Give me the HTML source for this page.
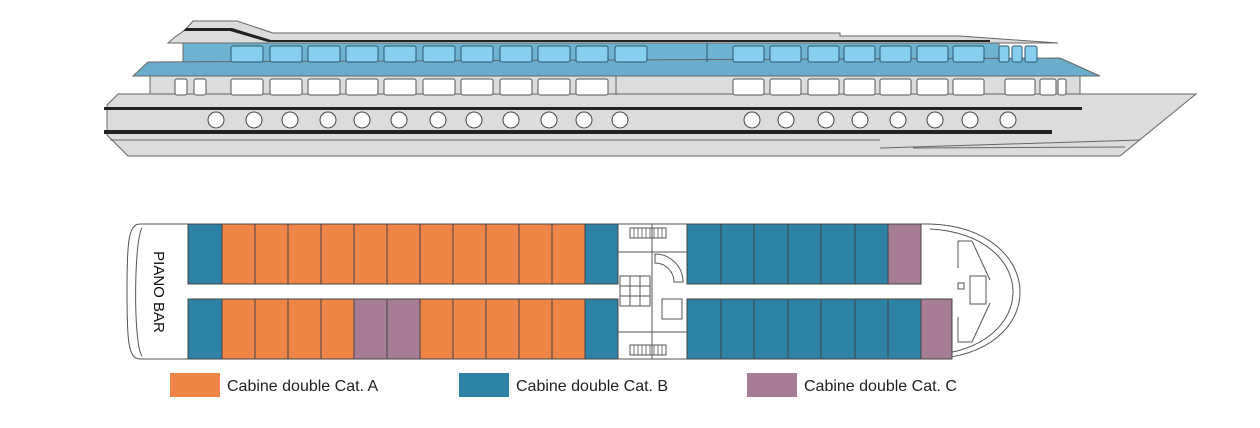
<!DOCTYPE html>
<html><head><meta charset="utf-8"><style>
html,body{margin:0;padding:0;background:#fff;width:1260px;height:428px;overflow:hidden}
svg{display:block}
text{font-family:"Liberation Sans",sans-serif}
</style></head><body>
<svg width="1260" height="428" viewBox="0 0 1260 428" xmlns="http://www.w3.org/2000/svg">
<!-- ===== PROFILE ===== -->
<g stroke="#666" stroke-width="1">
<!-- roof -->
<polygon points="193,21 237,21 273,33 840,33 840,36 960,36 1058,43 168,43 175,37 185,30" fill="#dcdcdc"/>
<polygon points="186,28 232,28 271,40 990,40 990,42 268,42 230,31 183,31" fill="#222" stroke="none"/>
<!-- glass deck -->
<rect x="183" y="43" width="816" height="19" fill="#6fb3d3"/>
<!-- blue band -->
<polygon points="148,62 1060,58 1100,76 133,76" fill="#6aaccb"/>
<!-- white deck -->
<rect x="150" y="76" width="930" height="19" fill="#dcdcdc"/>
<!-- hull -->
<polygon points="118,94 1196,94 1120,156 128,156 107,135 107,105" fill="#dcdcdc"/>
<line x1="880" y1="148" x2="1140" y2="140"/>
<line x1="913" y1="148" x2="1125" y2="147"/>
<line x1="110" y1="140" x2="880" y2="140"/>
</g>
<rect x="104" y="107" width="978" height="3" fill="#222"/>
<rect x="104" y="130" width="948" height="4" fill="#222"/>
<g fill="#87cfee" stroke="#2a5a75" stroke-width="1">
<rect x="231" y="46" width="32" height="16" rx="2"/><rect x="270" y="46" width="32" height="16" rx="2"/>
<rect x="308" y="46" width="32" height="16" rx="2"/><rect x="346" y="46" width="32" height="16" rx="2"/>
<rect x="384" y="46" width="32" height="16" rx="2"/><rect x="423" y="46" width="32" height="16" rx="2"/>
<rect x="461" y="46" width="32" height="16" rx="2"/><rect x="500" y="46" width="32" height="16" rx="2"/>
<rect x="538" y="46" width="32" height="16" rx="2"/><rect x="576" y="46" width="32" height="16" rx="2"/>
<rect x="615" y="46" width="32" height="16" rx="2"/>
<rect x="733" y="46" width="31" height="16" rx="2"/><rect x="770" y="46" width="31" height="16" rx="2"/>
<rect x="808" y="46" width="31" height="16" rx="2"/><rect x="844" y="46" width="31" height="16" rx="2"/>
<rect x="880" y="46" width="31" height="16" rx="2"/><rect x="917" y="46" width="31" height="16" rx="2"/>
<rect x="953" y="46" width="31" height="16" rx="2"/>
<rect x="999" y="46" width="10" height="16" rx="2"/><rect x="1012" y="46" width="10" height="16" rx="2"/><rect x="1025" y="46" width="12" height="16" rx="2"/>
</g>
<line x1="707" y1="43" x2="707" y2="62" stroke="#2a5a75"/>
<g fill="#fff" stroke="#555" stroke-width="1">
<rect x="175" y="79" width="12" height="16" rx="2"/><rect x="194" y="79" width="12" height="16" rx="2"/>
<rect x="231" y="79" width="32" height="16" rx="2"/><rect x="270" y="79" width="32" height="16" rx="2"/>
<rect x="308" y="79" width="32" height="16" rx="2"/><rect x="346" y="79" width="32" height="16" rx="2"/>
<rect x="384" y="79" width="32" height="16" rx="2"/><rect x="423" y="79" width="32" height="16" rx="2"/>
<rect x="461" y="79" width="32" height="16" rx="2"/><rect x="500" y="79" width="32" height="16" rx="2"/>
<rect x="538" y="79" width="32" height="16" rx="2"/><rect x="576" y="79" width="32" height="16" rx="2"/>
<rect x="733" y="79" width="31" height="16" rx="2"/><rect x="770" y="79" width="31" height="16" rx="2"/>
<rect x="808" y="79" width="31" height="16" rx="2"/><rect x="844" y="79" width="31" height="16" rx="2"/>
<rect x="880" y="79" width="31" height="16" rx="2"/><rect x="917" y="79" width="31" height="16" rx="2"/>
<rect x="953" y="79" width="31" height="16" rx="2"/><rect x="1005" y="79" width="30" height="16" rx="2"/>
<rect x="1040" y="79" width="16" height="16" rx="2"/><rect x="1058" y="79" width="8" height="16" rx="2"/>
</g>
<line x1="616" y1="76" x2="616" y2="95" stroke="#666"/>
<g fill="#fff" stroke="#444" stroke-width="1">
<circle cx="216" cy="120" r="8"/><circle cx="254" cy="120" r="8"/><circle cx="290" cy="120" r="8"/><circle cx="328" cy="120" r="8"/>
<circle cx="362" cy="120" r="8"/><circle cx="399" cy="120" r="8"/><circle cx="438" cy="120" r="8"/><circle cx="474" cy="120" r="8"/>
<circle cx="511" cy="120" r="8"/><circle cx="549" cy="120" r="8"/><circle cx="584" cy="120" r="8"/><circle cx="620" cy="120" r="8"/>
<circle cx="752" cy="120" r="8"/><circle cx="786" cy="120" r="8"/><circle cx="826" cy="120" r="8"/><circle cx="860" cy="120" r="8"/>
<circle cx="898" cy="120" r="8"/><circle cx="935" cy="120" r="8"/><circle cx="970" cy="120" r="8"/><circle cx="1008" cy="120" r="8"/>
</g>
<!-- ===== DECK PLAN ===== -->
<path d="M140,224 L930,224 C990,226 1020,260 1020,292 C1020,325 990,357 930,359 L140,359 C128,359 127,340 127,292 C127,244 128,224 140,224 Z" fill="#fff" stroke="#555"/>
<path d="M930,229 C985,232 1013,262 1013,292 C1013,322 985,352 930,355" fill="none" stroke="#555"/>
<path d="M142,228 C134,240 133,344 142,356" fill="none" stroke="#555"/>
<g stroke="#444" stroke-width="1">
<rect x="188" y="224" width="34" height="60" fill="#2d82a6"/><rect x="188" y="299" width="34" height="60" fill="#2d82a6"/>
<g fill="#ef8447">
<rect x="222" y="224" width="33" height="60"/><rect x="255" y="224" width="33" height="60"/><rect x="288" y="224" width="33" height="60"/>
<rect x="321" y="224" width="33" height="60"/><rect x="354" y="224" width="33" height="60"/><rect x="387" y="224" width="33" height="60"/>
<rect x="420" y="224" width="33" height="60"/><rect x="453" y="224" width="33" height="60"/><rect x="486" y="224" width="33" height="60"/>
<rect x="519" y="224" width="33" height="60"/><rect x="552" y="224" width="33" height="60"/>
<rect x="222" y="299" width="33" height="60"/><rect x="255" y="299" width="33" height="60"/><rect x="288" y="299" width="33" height="60"/>
<rect x="321" y="299" width="33" height="60"/>
<rect x="420" y="299" width="33" height="60"/><rect x="453" y="299" width="33" height="60"/><rect x="486" y="299" width="33" height="60"/>
<rect x="519" y="299" width="33" height="60"/><rect x="552" y="299" width="33" height="60"/>
</g>
<rect x="354" y="299" width="33" height="60" fill="#a77d95"/><rect x="387" y="299" width="33" height="60" fill="#a77d95"/>
<rect x="585" y="224" width="33" height="60" fill="#2d82a6"/><rect x="585" y="299" width="33" height="60" fill="#2d82a6"/>
<g fill="#2d82a6">
<rect x="687" y="224" width="34" height="60"/><rect x="721" y="224" width="33" height="60"/><rect x="754" y="224" width="34" height="60"/>
<rect x="788" y="224" width="33" height="60"/><rect x="821" y="224" width="34" height="60"/><rect x="855" y="224" width="33" height="60"/>
<rect x="687" y="299" width="34" height="60"/><rect x="721" y="299" width="33" height="60"/><rect x="754" y="299" width="34" height="60"/>
<rect x="788" y="299" width="33" height="60"/><rect x="821" y="299" width="34" height="60"/><rect x="855" y="299" width="33" height="60"/>
<rect x="888" y="299" width="33" height="60"/>
</g>
<rect x="888" y="224" width="33" height="60" fill="#a77d95"/><rect x="921" y="299" width="31" height="60" fill="#a77d95"/>
</g>
<!-- stair area -->
<g stroke="#555" fill="none" stroke-width="1">
<line x1="618" y1="252" x2="687" y2="252"/><line x1="618" y1="332" x2="687" y2="332"/>
<line x1="652" y1="224" x2="652" y2="359"/>
<rect x="630" y="228" width="36" height="10"/><rect x="630" y="345" width="36" height="10"/>
<rect x="620" y="276" width="30" height="30"/><line x1="630" y1="276" x2="630" y2="306"/><line x1="640" y1="276" x2="640" y2="306"/>
<line x1="620" y1="286" x2="650" y2="286"/><line x1="620" y1="296" x2="650" y2="296"/>
<rect x="662" y="299" width="20" height="20"/>
<path d="M655,254 A28,28 0 0 1 683,282 L674,282 A19,19 0 0 0 655,263 Z"/>
<line x1="958" y1="241" x2="972" y2="241"/><line x1="958" y1="241" x2="958" y2="268"/>
<line x1="972" y1="241" x2="990" y2="280"/><line x1="990" y1="303" x2="972" y2="342"/>
<line x1="958" y1="317" x2="958" y2="342"/><line x1="958" y1="342" x2="972" y2="342"/>
<rect x="958" y="283" width="6" height="6"/><rect x="970" y="276" width="16" height="28"/>
</g>
<g stroke="#555" stroke-width="0.8">
<line x1="634" y1="228" x2="634" y2="238"/><line x1="638" y1="228" x2="638" y2="238"/><line x1="642" y1="228" x2="642" y2="238"/><line x1="646" y1="228" x2="646" y2="238"/><line x1="650" y1="228" x2="650" y2="238"/><line x1="654" y1="228" x2="654" y2="238"/><line x1="658" y1="228" x2="658" y2="238"/><line x1="662" y1="228" x2="662" y2="238"/>
<line x1="634" y1="345" x2="634" y2="355"/><line x1="638" y1="345" x2="638" y2="355"/><line x1="642" y1="345" x2="642" y2="355"/><line x1="646" y1="345" x2="646" y2="355"/><line x1="650" y1="345" x2="650" y2="355"/><line x1="654" y1="345" x2="654" y2="355"/><line x1="658" y1="345" x2="658" y2="355"/><line x1="662" y1="345" x2="662" y2="355"/>
</g>
<text x="0" y="0" transform="translate(154,292) rotate(90)" font-size="15" text-anchor="middle" fill="#111">PIANO BAR</text>
<!-- legend -->
<rect x="170" y="373" width="50" height="24" fill="#ef8447"/>
<text x="227" y="391" font-size="16" fill="#222">Cabine double Cat. A</text>
<rect x="459" y="373" width="50" height="24" fill="#2d82a6"/>
<text x="516" y="391" font-size="16" fill="#222">Cabine double Cat. B</text>
<rect x="747" y="373" width="50" height="24" fill="#a77d95"/>
<text x="804" y="391" font-size="16" fill="#222">Cabine double Cat. C</text>
</svg>
</body></html>
